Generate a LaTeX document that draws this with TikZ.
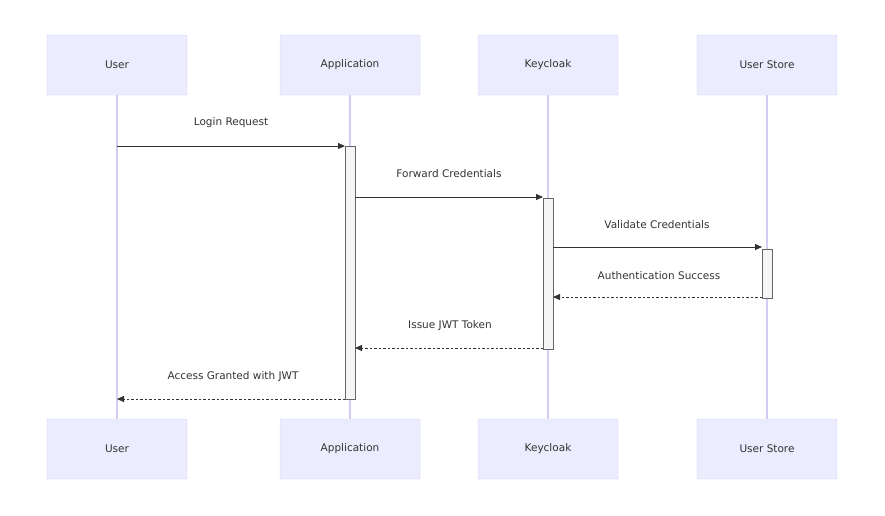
\documentclass[tikz,border=0pt]{standalone}
\usepackage{fontspec}
\setmainfont{DejaVu Sans}
\usetikzlibrary{arrows.meta}
\definecolor{actfill}{HTML}{ECECFF}
\definecolor{actline}{HTML}{D4CCF2}
\definecolor{txt}{HTML}{333333}
\begin{document}
\begin{tikzpicture}[x=1pt,y=-1pt,
  actor/.style={draw=actline,fill=actfill,minimum width=140pt,minimum height=60pt,inner sep=0,font=\fontsize{10.5}{12}\selectfont,text=txt,rounded corners=1pt},
  life/.style={draw=actline,line width=1.2pt},
  act/.style={draw=black!60,fill=black!4},
  msg/.style={draw=black!80,line width=0.9pt,-{Triangle[length=7pt,width=6pt]}},
  rep/.style={msg,dash pattern=on 2.5pt off 2pt},
  lbl/.style={font=\fontsize{10.5}{12}\selectfont,text=txt}]
\useasboundingbox (0,0) rectangle (885,515);
\foreach \n/\t/\x in {u/User/117,a/Application/350,k/Keycloak/548,s/User Store/767}{
  \draw[life] (\x,95) -- (\x,419);
  \node[actor] (\n1) at (\x,65) {\t};
  \node[actor] (\n2) at (\x,449) {\t};
}
\draw[act] (345,146) rectangle (355,399);
\draw[act] (543,198) rectangle (553,349);
\draw[act] (762,249) rectangle (772,298);
\coordinate (m1a) at (117,146); \coordinate (m1b) at (345,146);
\coordinate (m2a) at (355,197); \coordinate (m2b) at (543,197);
\coordinate (m3a) at (553,247); \coordinate (m3b) at (762,247);
\coordinate (m4a) at (762,297); \coordinate (m4b) at (553,297);
\coordinate (m5a) at (543,348); \coordinate (m5b) at (355,348);
\coordinate (m6a) at (345,399); \coordinate (m6b) at (117,399);
\draw[msg] (m1a) -- (m1b); \node[lbl] (l1) at (231,123) {Login Request};
\draw[msg] (m2a) -- (m2b); \node[lbl] (l2) at (449,174) {Forward Credentials};
\draw[msg] (m3a) -- (m3b); \node[lbl] (l3) at (657,225) {Validate Credentials};
\draw[rep] (m4a) -- (m4b); \node[lbl] (l4) at (659,276) {Authentication Success};
\draw[rep] (m5a) -- (m5b); \node[lbl] (l5) at (450,326) {Issue JWT Token};
\draw[rep] (m6a) -- (m6b); \node[lbl] (l6) at (233,377) {Access Granted with JWT};
\end{tikzpicture}
\end{document}
